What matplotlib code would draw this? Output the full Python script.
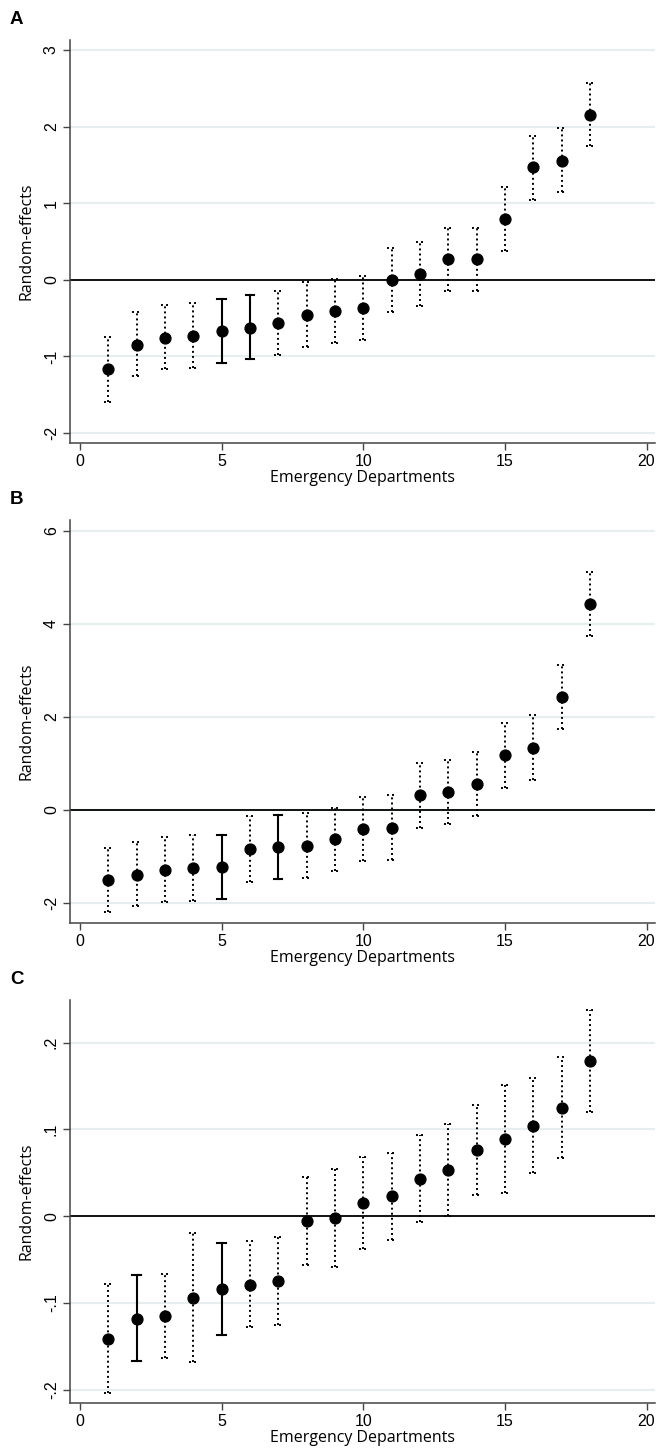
import matplotlib
matplotlib.use("Agg")
import matplotlib.pyplot as plt
import numpy as np

eds = list(range(1, 19))

# Panel A
a_est = [-1.17, -0.85, -0.76, -0.73, -0.67, -0.63, -0.57, -0.46, -0.41, -0.37,
         0.00, 0.07, 0.27, 0.27, 0.80, 1.47, 1.55, 2.15]
a_lo = [-1.60, -1.26, -1.17, -1.15, -1.09, -1.04, -0.98, -0.88, -0.83, -0.78,
        -0.42, -0.34, -0.15, -0.15, 0.38, 1.04, 1.14, 1.74]
a_hi = [-0.74, -0.42, -0.33, -0.30, -0.25, -0.20, -0.14, -0.03, 0.01, 0.05,
        0.41, 0.49, 0.68, 0.68, 1.21, 1.88, 1.98, 2.57]
a_solid = [5, 6]
a_yticks = [-2, -1, 0, 1, 2, 3]
a_ylabels = ["-2", "-1", "0", "1", "2", "3"]

# Panel B
b_est = [-1.51, -1.39, -1.29, -1.25, -1.22, -0.84, -0.80, -0.78, -0.63, -0.41,
         -0.39, 0.31, 0.39, 0.56, 1.17, 1.34, 2.42, 4.42]
b_lo = [-2.20, -2.06, -1.97, -1.95, -1.91, -1.54, -1.49, -1.46, -1.32, -1.09,
        -1.07, -0.39, -0.31, -0.13, 0.48, 0.64, 1.73, 3.73]
b_hi = [-0.81, -0.68, -0.58, -0.54, -0.53, -0.14, -0.11, -0.07, 0.05, 0.28,
        0.31, 1.00, 1.07, 1.24, 1.86, 2.03, 3.12, 5.12]
b_solid = [5, 7]
b_yticks = [-2, 0, 2, 4, 6]
b_ylabels = ["-2", "0", "2", "4", "6"]

# Panel C
c_est = [-0.141, -0.118, -0.115, -0.094, -0.084, -0.079, -0.075, -0.005, -0.002,
         0.015, 0.023, 0.043, 0.053, 0.076, 0.089, 0.104, 0.125, 0.179]
c_lo = [-0.203, -0.167, -0.163, -0.168, -0.137, -0.128, -0.125, -0.056, -0.058,
        -0.038, -0.027, -0.007, 0.000, 0.024, 0.027, 0.050, 0.067, 0.120]
c_hi = [-0.078, -0.068, -0.066, -0.019, -0.031, -0.029, -0.024, 0.045, 0.054,
        0.068, 0.073, 0.093, 0.106, 0.128, 0.151, 0.159, 0.183, 0.238]
c_solid = [2, 5]
c_yticks = [-0.2, -0.1, 0.0, 0.1, 0.2]
c_ylabels = ["-.2", "-.1", "0", ".1", ".2"]

xticks = [0, 5, 10, 15, 20]
panels = [
    ("A", a_est, a_lo, a_hi, a_solid, a_yticks, a_ylabels, (-2.13, 3.13)),
    ("B", b_est, b_lo, b_hi, b_solid, b_yticks, b_ylabels, (-2.43, 6.23)),
    ("C", c_est, c_lo, c_hi, c_solid, c_yticks, c_ylabels, (-0.215, 0.249)),
]

fig = plt.figure(figsize=(6.57, 14.5), dpi=100)
tops_px = [40, 520, 1000]
H = 1450.0
W = 657.0
ax_h_px = 403
left_px, right_px = 70, 655

tick_font = ["Liberation Sans", "DejaVu Sans"]
label_font = ["Open Sans", "DejaVu Sans"]

for (name, est, lo, hi, solid, yt, yl, ylim), top in zip(panels, tops_px):
    ax = fig.add_axes([left_px / W, 1 - (top + ax_h_px) / H,
                       (right_px - left_px) / W, ax_h_px / H])
    ax.set_xlim(-0.35, 20.3)
    ax.set_ylim(*ylim)
    for t in yt:
        ax.axhline(t, color="#e6eef0", lw=1.6, zorder=0)
    ax.axhline(0, color="black", lw=1.3, zorder=1)
    for i, x in enumerate(eds):
        ls = "-" if x in solid else (0, (1, 1.6))
        lw = 1.5 if x in solid else 1.4
        ax.plot([x, x], [lo[i], hi[i]], color="black", ls=ls, lw=lw, zorder=2)
        for yv in (lo[i], hi[i]):
            ax.plot([x - 0.15, x + 0.15], [yv, yv], color="black", ls=ls,
                    lw=lw, zorder=2)
    ax.plot(eds, est, "o", color="black", ms=7.8, zorder=3, ls="none")
    for s in ("top", "right"):
        ax.spines[s].set_visible(False)
    for s in ("left", "bottom"):
        ax.spines[s].set_color("#444444")
        ax.spines[s].set_linewidth(1.1)
    ax.set_xticks(xticks)
    ax.set_xticklabels([str(v) for v in xticks], fontfamily=tick_font, fontsize=11.5)
    ax.set_yticks(yt)
    ax.set_yticklabels(yl, fontfamily=tick_font, fontsize=11.5, rotation=90,
                       va="center")
    ax.tick_params(axis="both", length=5, width=1, color="#444444", pad=3)
    ax.set_xlabel("Emergency Departments", fontfamily=label_font, fontsize=11.5,
                  labelpad=1)
    ax.set_ylabel("Random-effects", fontfamily=label_font, fontsize=11.5,
                  labelpad=7)
    fig.text(10 / W, 1 - (top - 20) / H, name, fontfamily=tick_font,
             fontsize=13.5, fontweight="bold", va="center", ha="left")

fig.savefig("out.png", dpi=100, facecolor="white")
